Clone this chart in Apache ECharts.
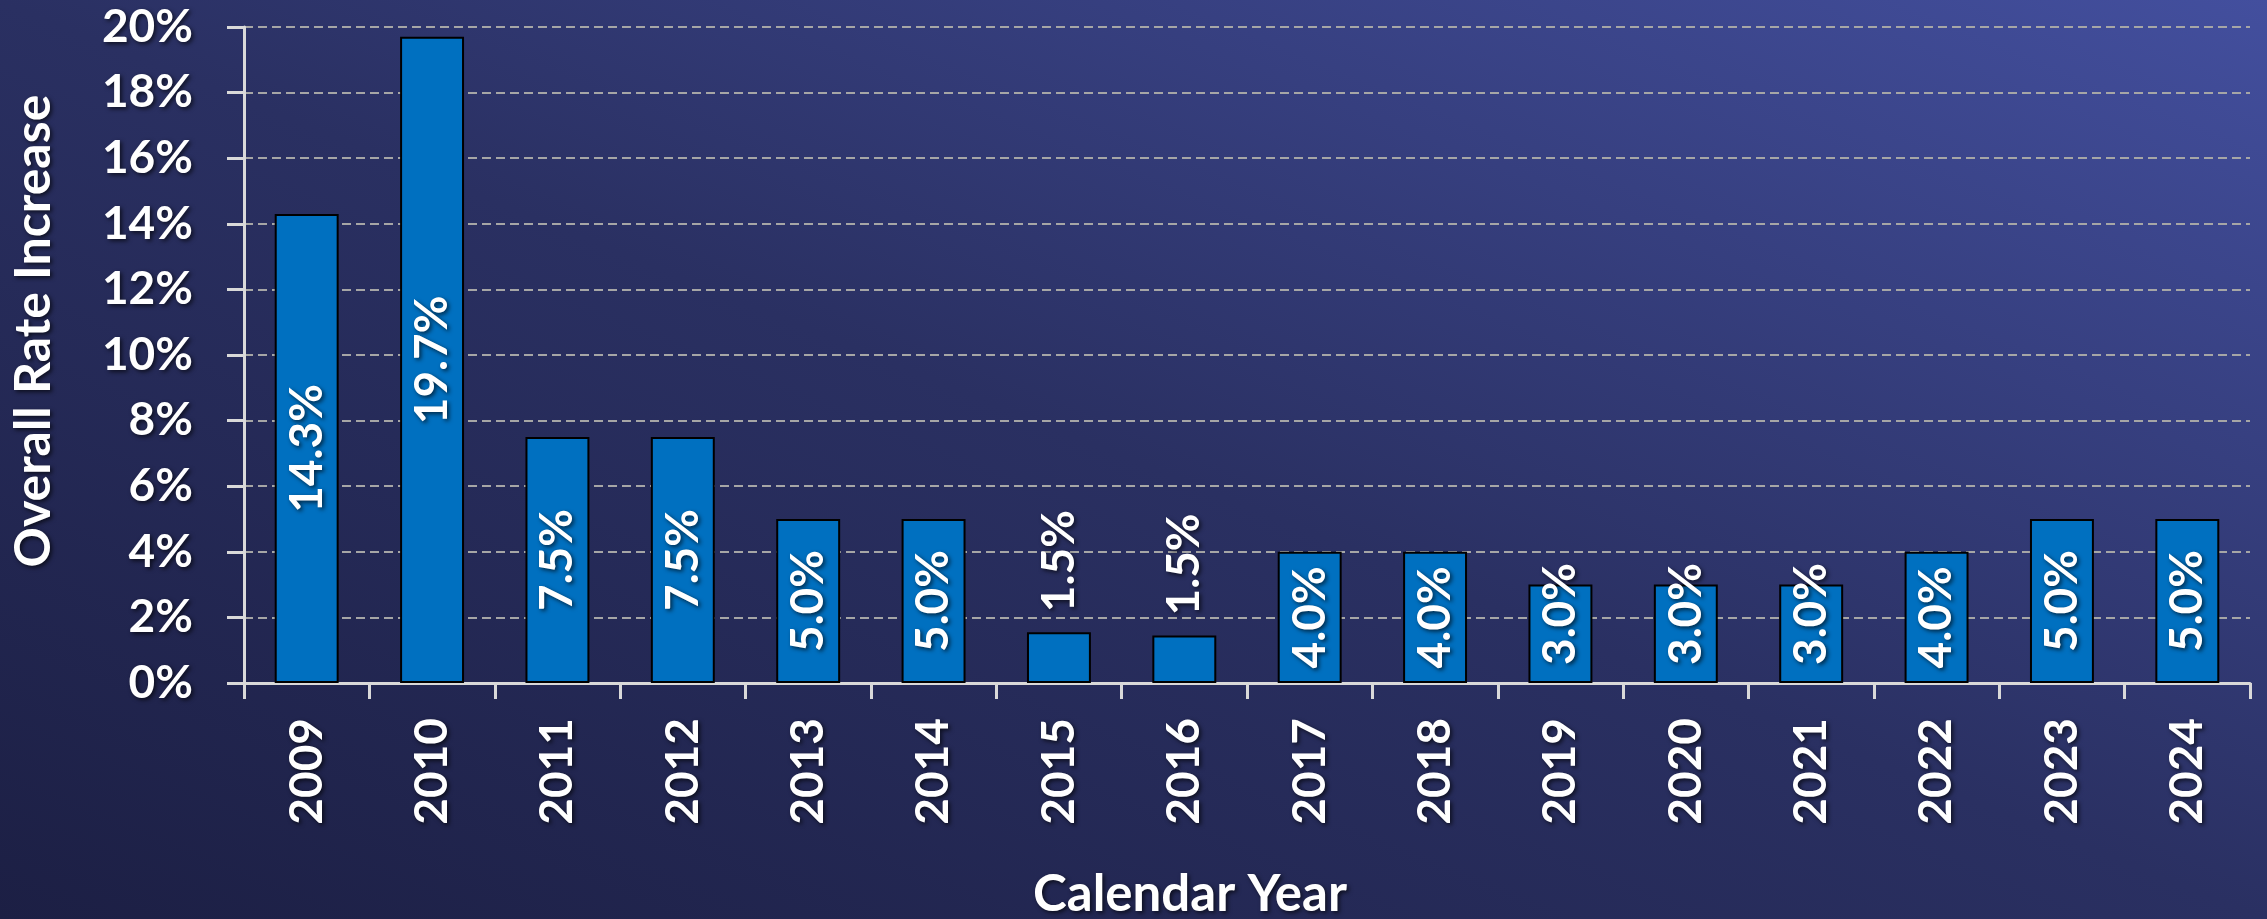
<!DOCTYPE html>
<html>
<head>
<meta charset="utf-8">
<script src="https://cdn.jsdelivr.net/npm/echarts@6/dist/echarts.min.js"></script>
<style>
  html, body { margin: 0; padding: 0; }
  #main { width: 2267px; height: 919px; }
</style>
</head>
<body>
<div id="main"></div>
<script>
// chart data
var years = ['2009', '2010', '2011', '2012', '2013', '2014', '2015', '2016',
             '2017', '2018', '2019', '2020', '2021', '2022', '2023', '2024'];
var rateIncrease = [14.3, 19.7, 7.5, 7.5, 5.0, 5.0, 1.55, 1.45,
                    4.0, 4.0, 3.0, 3.0, 3.0, 4.0, 5.0, 5.0];
var barLabels = ['14.3%', '19.7%', '7.5%', '7.5%', '5.0%', '5.0%', '1.5%', '1.5%',
                 '4.0%', '4.0%', '3.0%', '3.0%', '3.0%', '4.0%', '5.0%', '5.0%'];
var yTicks = [0, 2, 4, 6, 8, 10, 12, 14, 16, 18, 20];

var FONT = 'Lato';
var shadow = {
    textShadowColor: 'rgba(0,0,0,0.65)',
    textShadowBlur: 4,
    textShadowOffsetX: 2,
    textShadowOffsetY: 2
};
function txt(extra) {
    var o = { color: '#ffffff', fontFamily: FONT, fontWeight: 'bold', fontSize: 46 };
    for (var k in shadow) o[k] = shadow[k];
    for (var k2 in extra) o[k2] = extra[k2];
    return o;
}

var myChart = echarts.init(document.getElementById('main'));

// small bars: label above the bar; short bars: label sits from the bottom
var barData = [];
for (var i = 0; i < rateIncrease.length; i++) {
    var item = { value: rateIncrease[i] };
    if (rateIncrease[i] < 2) {
        item.label = { position: 'top', distance: 20, align: 'left', verticalAlign: 'middle' };
    } else if (rateIncrease[i] < 3.5) {
        item.label = { position: 'insideBottom', distance: 18, align: 'left', verticalAlign: 'middle' };
    }
    barData.push(item);
}

var option = {
    animation: false,
    backgroundColor: {
        type: 'linear', global: true,
        x: 813, y: 1250, x2: 1453, y2: -330,
        colorStops: [
            { offset: 0, color: '#1c1f44' },
            { offset: 0.5, color: '#2a3062' },
            { offset: 1, color: '#434f9e' }
        ]
    },
    grid: { left: 244, right: 17, top: 27, bottom: 236, outerBoundsMode: 'none' },
    xAxis: {
        type: 'category',
        data: years,
        name: 'Calendar Year',
        nameLocation: 'middle',
        nameGap: 186,
        nameTextStyle: txt({ fontSize: 51, padding: [0, 114, 0, 0] }),
        axisLine: { lineStyle: { color: '#d9d9d9', width: 3 } },
        axisTick: { show: true, length: 16, lineStyle: { color: '#d9d9d9', width: 3 } },
        axisLabel: txt({ rotate: 90, margin: 35 })
    },
    yAxis: {
        type: 'value',
        min: yTicks[0],
        max: yTicks[yTicks.length - 1],
        interval: yTicks[1] - yTicks[0],
        name: 'Overall Rate Increase',
        nameLocation: 'middle',
        nameGap: 185,
        nameTextStyle: txt({ fontSize: 50, padding: [0, 0, 0, 48] }),
        axisLine: { show: true, lineStyle: { color: '#d9d9d9', width: 3 } },
        axisTick: { show: true, length: 17, lineStyle: { color: '#d9d9d9', width: 3 } },
        axisLabel: txt({ margin: 51, formatter: '{value}%' }),
        splitLine: { lineStyle: { color: '#a6a6a6', width: 2, type: [9, 5] } }
    },
    series: [{
        type: 'bar',
        data: barData,
        barWidth: '51%',
        itemStyle: { color: '#0070c0', borderColor: '#000000', borderWidth: 2 },
        label: txt({
            show: true,
            position: 'inside',
            rotate: 90,
            formatter: function (p) { return barLabels[p.dataIndex]; }
        })
    }]
};

myChart.setOption(option);
</script>
</body>
</html>
